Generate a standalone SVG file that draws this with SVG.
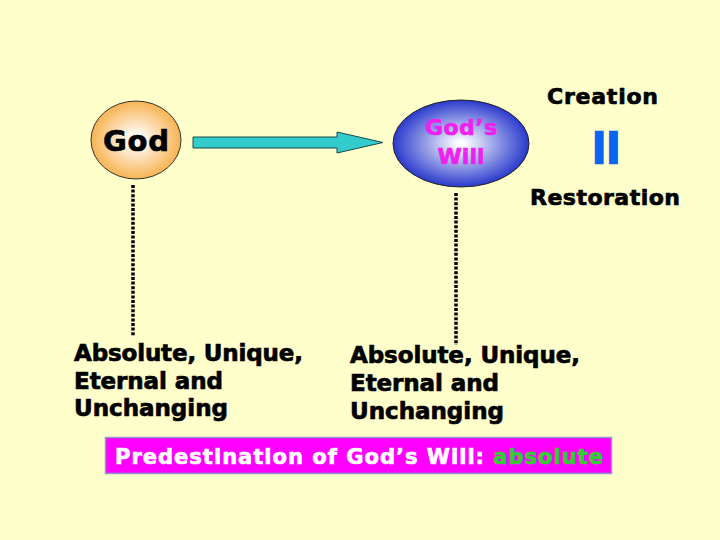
<svg xmlns="http://www.w3.org/2000/svg" width="720" height="540" viewBox="0 0 720 540">
<defs>
<radialGradient id="gOrange" cx="50%" cy="50%" r="50%">
<stop offset="0.1" stop-color="#FFFFFF"/>
<stop offset="1" stop-color="#F7B352"/>
</radialGradient>
<radialGradient id="gBlue" cx="50%" cy="50%" r="50%">
<stop offset="0.05" stop-color="#FFFFFF"/>
<stop offset="1" stop-color="#2A3ACC"/>
</radialGradient>
<style>
.t{font-family:"DejaVu Sans","Liberation Sans",sans-serif;font-weight:bold;fill:#000;stroke:#000;stroke-width:0.7}
.m{fill:#EE22EE;stroke:#EE22EE}
.w{fill:#FFFFFF;stroke:#FFFFFF}
.g{fill:#33CC33;stroke:#33CC33}
.dot{stroke:#000;stroke-width:3.5;stroke-dasharray:3 1.6;fill:none}
</style>
</defs>
<rect width="720" height="540" fill="#FFFFCC"/>
<g id="connectors">
<polygon points="193,137 337,137 337,132 383,142.5 337,153 337,148 193,148" fill="#33CCCC" stroke="#1a4a4a" stroke-width="1"/>
<line class="dot" x1="133" y1="185" x2="133" y2="336"/>
<line class="dot" x1="456" y1="193" x2="456" y2="345"/>
</g>
<g id="god">
<ellipse cx="136" cy="140" rx="45" ry="39" fill="url(#gOrange)" stroke="#333" stroke-width="1"/>
<text class="t" x="136" y="151" font-size="29" text-anchor="middle" textLength="66">God</text>
</g>
<g id="godswill">
<ellipse cx="461" cy="143.5" rx="68" ry="43.5" fill="url(#gBlue)" stroke="#222" stroke-width="1"/>
<text class="t m" x="461" y="135" font-size="22" text-anchor="middle" textLength="72">God’s</text>
<text class="t m" x="461" y="164" font-size="22" text-anchor="middle" textLength="47">Will</text>
</g>
<g id="creation">
<text class="t" x="547" y="104" font-size="22" textLength="111">Creation</text>
<text x="593" y="162.5" font-family="Liberation Sans,Arial,sans-serif" font-weight="bold" font-size="44" fill="#0A66F0" stroke="#0A66F0" stroke-width="2.5" letter-spacing="2">II</text>
<text class="t" x="530" y="205" font-size="22" textLength="150">Restoration</text>
</g>
<g id="left-attr">
<text class="t" x="74" y="361" font-size="23" textLength="229">Absolute, Unique,</text>
<text class="t" x="74" y="389" font-size="23" textLength="149">Eternal and</text>
<text class="t" x="74" y="416" font-size="23" textLength="154">Unchanging</text>
</g>
<g id="right-attr">
<text class="t" x="350" y="363" font-size="23" textLength="230">Absolute, Unique,</text>
<text class="t" x="350" y="391" font-size="23" textLength="149">Eternal and</text>
<text class="t" x="350" y="419" font-size="23" textLength="154">Unchanging</text>
</g>
<g id="predestination">
<rect x="105.5" y="437.5" width="506" height="36" fill="#FF00FF" stroke="#8899CC" stroke-width="1.5"/>
<text class="t w" x="115" y="464" font-size="21" textLength="488">Predestination of God’s Will: <tspan class="g">absolute</tspan></text>
</g>
</svg>
